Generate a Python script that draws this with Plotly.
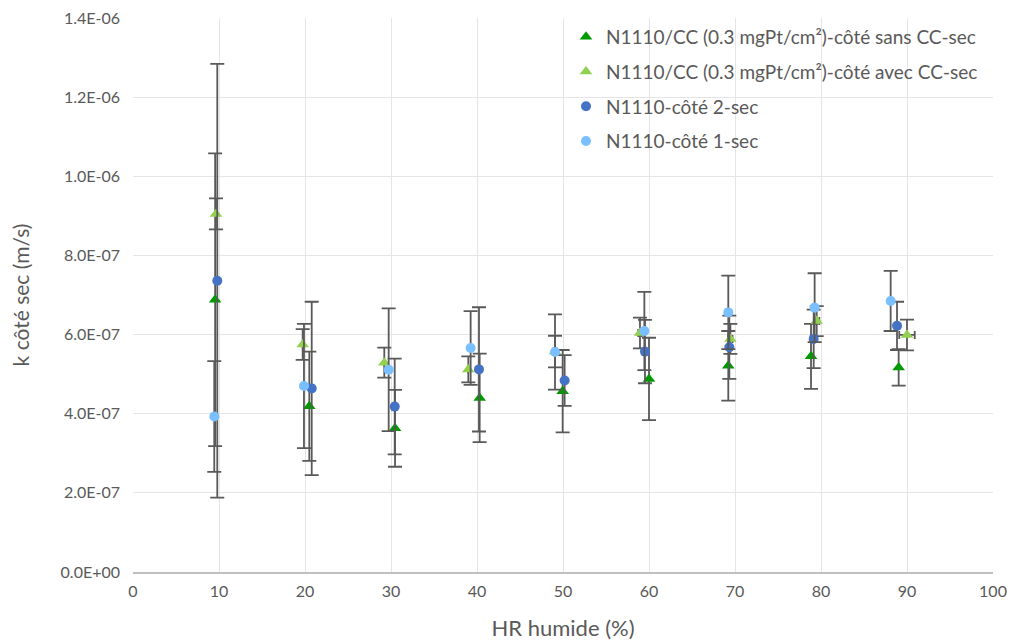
import plotly.graph_objects as go

# ---- data ----
names = [
    "N1110/CC (0.3 mgPt/cm²)-côté sans CC-sec",
    "N1110/CC (0.3 mgPt/cm²)-côté avec CC-sec",
    "N1110-côté 2-sec",
    "N1110-côté 1-sec",
]

x_sans = [9.55, 20.5, 30.47, 40.31, 49.96, 60.0, 69.22, 78.84, 89.03]
y_sans = [6.88e-7, 4.19e-7, 3.63e-7, 4.40e-7, 4.57e-7, 4.88e-7, 5.21e-7, 5.45e-7, 5.17e-7]
e_sans = [3.70e-7, 1.38e-7, 0.97e-7, 1.12e-7, 1.04e-7, 1.04e-7, 0.88e-7, 0.82e-7, 0.46e-7]

x_avec = [9.65, 19.73, 29.22, 38.99, 49.07, 58.95, 69.46, 79.5, 90.0]
y_avec = [9.05e-7, 5.75e-7, 5.29e-7, 5.12e-7, 5.57e-7, 6.04e-7, 5.89e-7, 6.34e-7, 5.99e-7]
e_avec = [0.39e-7, 0.39e-7, 0.38e-7, 0.33e-7, 0.40e-7, 0.39e-7, 0.38e-7, 0.38e-7, 0.39e-7]
ex_avec = [0, 0, 0, 0, 0.2, 0.2, 0.25, 0.3, 0.9]

x_c2 = [9.8, 20.78, 30.43, 40.23, 50.19, 59.53, 69.34, 79.15, 88.84]
y_c2 = [7.36e-7, 4.64e-7, 4.18e-7, 5.12e-7, 4.84e-7, 5.57e-7, 5.68e-7, 5.89e-7, 6.22e-7]
e_c2 = [5.48e-7, 2.19e-7, 1.21e-7, 1.57e-7, 0.64e-7, 0.80e-7, 0.80e-7, 0.74e-7, 0.61e-7]

x_c1 = [9.45, 19.88, 29.73, 39.26, 49.07, 59.46, 69.22, 79.26, 88.1]
y_c1 = [3.93e-7, 4.70e-7, 5.11e-7, 5.66e-7, 5.56e-7, 6.09e-7, 6.56e-7, 6.68e-7, 6.85e-7]
e_c1 = [1.40e-7, 1.57e-7, 1.55e-7, 0.93e-7, 0.95e-7, 0.99e-7, 0.93e-7, 0.87e-7, 0.76e-7]
ex_c1 = [0, 0, 0, 0, 0.1, 0.1, 0.25, 0.2, 0]

y_tickvals = [0, 2e-7, 4e-7, 6e-7, 8e-7, 1.0e-6, 1.2e-6, 1.4e-6]
y_ticktext = ["0.0E+00", "2.0E-07", "4.0E-07", "6.0E-07", "8.0E-07", "1.0E-06", "1.2E-06", "1.4E-06"]

colors = ["#009A00", "#92D050", "#4472C4", "#7ABFFF"]
symbols = ["triangle-up", "triangle-up", "circle", "circle"]
err_color = "#595959"

series = [
    (x_sans, y_sans, e_sans, None),
    (x_avec, y_avec, e_avec, ex_avec),
    (x_c2, y_c2, e_c2, None),
    (x_c1, y_c1, e_c1, ex_c1),
]

fig = go.Figure()
for i, (xs, ys, es, exs) in enumerate(series):
    kw = {}
    if exs is not None:
        kw["error_x"] = dict(type="data", array=exs, visible=True,
                             color=err_color, thickness=1.8, width=4)
    fig.add_trace(go.Scatter(
        x=xs, y=ys, mode="markers", name=names[i],
        legendgroup=f"g{i}",
        marker=dict(symbol=symbols[i], color=colors[i],
                    size=10 if symbols[i] == "circle" else 11),
        error_y=dict(type="data", array=es, visible=True,
                     color=err_color, thickness=1.8, width=7),
        **kw,
    ))

font_family = "Lato, 'Open Sans', sans-serif"
# the page body has an 8px default margin, so the figure is sized/offset to compensate
fig.update_layout(
    width=1007, height=633,
    paper_bgcolor="white", plot_bgcolor="white",
    margin=dict(l=125, r=22, t=10, b=69, autoexpand=False),
    font=dict(family=font_family, color="#595959", size=14),
    showlegend=True,
    legend=dict(
        x=0.5035, xanchor="left", y=1.0, yanchor="top",
        bgcolor="rgba(0,0,0,0)", font=dict(size=19, color="#595959"),
        tracegroupgap=7, itemwidth=30,
    ),
    xaxis=dict(
        range=[0, 100], tick0=0, dtick=10,
        showgrid=True, gridcolor="#E5E5E5", gridwidth=1,
        showline=True, linecolor="#BFBFBF", linewidth=1.5,
        zeroline=False, ticks="", automargin=False,
        ticklabelstandoff=4, ticklabeloverflow="allow",
        tickfont=dict(size=16, color="#595959"),
        title=dict(text="HR humide (%)", font=dict(size=22, color="#595959"), standoff=25),
    ),
    yaxis=dict(
        range=[0, 1.4e-6],
        tickvals=y_tickvals, ticktext=y_ticktext,
        showgrid=True, gridcolor="#E5E5E5", gridwidth=1,
        showline=False, zeroline=False, ticks="", automargin=False,
        ticklabelstandoff=12, ticklabeloverflow="allow",
        tickfont=dict(size=16, color="#595959"),
        title=dict(text="k côté sec (m/s)", font=dict(size=21, color="#595959"), standoff=26),
    ),
)

fig.write_html("out.html")
